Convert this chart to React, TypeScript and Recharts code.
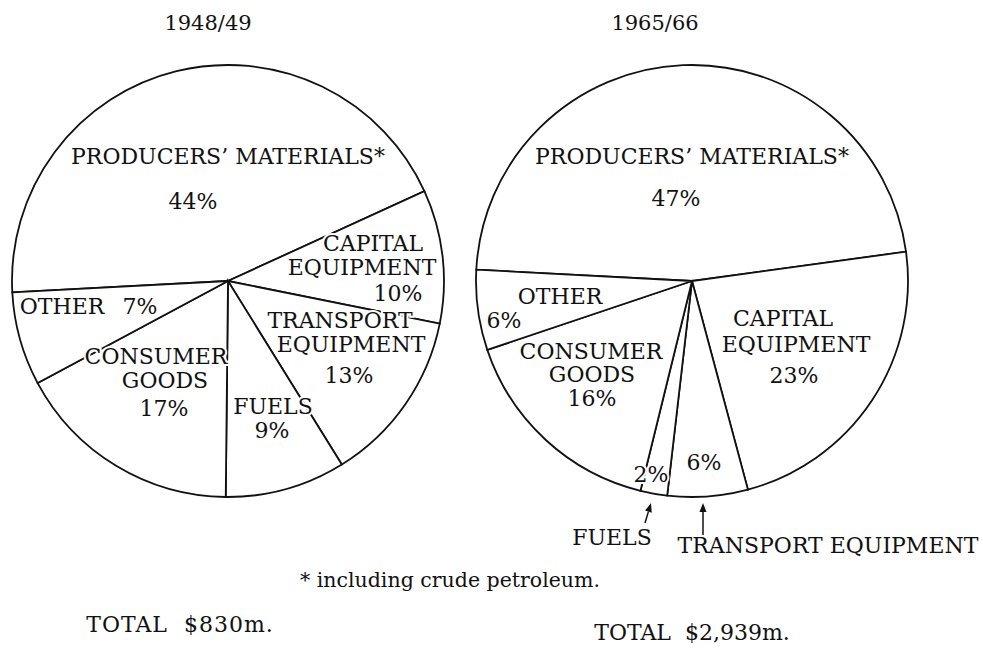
import { PieChart, Pie } from "recharts";

const W = 983;
const H = 651;
const FONT = "'DejaVu Serif', 'Liberation Serif', serif";
const FS = 22;

// shares of imports, per cent
const categories = [
  "Producers' materials",
  "Capital equipment",
  "Transport equipment",
  "Fuels",
  "Consumer goods",
  "Other",
];
const share4849 = [44, 10, 13, 9, 17, 7];
const share6566 = [47, 23, 6, 2, 16, 6];
const periods = ["1948/49", "1965/66"];
const totals = ["TOTAL  $830m.", "TOTAL  $2,939m."];
const footnote = "* including crude petroleum.";

type Line = { t: string; dx: number; dy: number };
type Arrow = { x1: number; y1: number; x2: number; y2: number };

// label placement, offsets from the pie centre ("%v" is replaced by the value)
const labels4849: Record<string, Line[]> = {
  "Producers' materials": [
    { t: "PRODUCERS\u2019 MATERIALS*", dx: 0, dy: -125 },
    { t: "%v", dx: -35, dy: -80 },
  ],
  "Capital equipment": [
    { t: "CAPITAL", dx: 145, dy: -38 },
    { t: "EQUIPMENT", dx: 134, dy: -14 },
    { t: "%v", dx: 170, dy: 12 },
  ],
  "Transport equipment": [
    { t: "TRANSPORT", dx: 112, dy: 39 },
    { t: "EQUIPMENT", dx: 123, dy: 63 },
    { t: "%v", dx: 121, dy: 94 },
  ],
  Fuels: [
    { t: "FUELS", dx: 45, dy: 125 },
    { t: "%v", dx: 44, dy: 149 },
  ],
  "Consumer goods": [
    { t: "CONSUMER", dx: -72, dy: 75 },
    { t: "GOODS", dx: -63, dy: 99 },
    { t: "%v", dx: -64, dy: 127 },
  ],
  Other: [
    { t: "OTHER", dx: -166, dy: 25 },
    { t: "%v", dx: -88, dy: 25 },
  ],
};

const labels6566: Record<string, Line[]> = {
  "Producers' materials": [
    { t: "PRODUCERS\u2019 MATERIALS*", dx: 0, dy: -125 },
    { t: "%v", dx: -16, dy: -83 },
  ],
  "Capital equipment": [
    { t: "CAPITAL", dx: 91, dy: 37 },
    { t: "EQUIPMENT", dx: 104, dy: 63 },
    { t: "%v", dx: 102, dy: 94 },
  ],
  "Transport equipment": [
    { t: "%v", dx: 12, dy: 181 },
    { t: "TRANSPORT EQUIPMENT", dx: 136, dy: 264 },
  ],
  Fuels: [
    { t: "%v", dx: -41, dy: 193 },
    { t: "FUELS", dx: -80, dy: 256 },
  ],
  "Consumer goods": [
    { t: "CONSUMER", dx: -101, dy: 70 },
    { t: "GOODS", dx: -100, dy: 93 },
    { t: "%v", dx: -100, dy: 117 },
  ],
  Other: [
    { t: "OTHER", dx: -132, dy: 15 },
    { t: "%v", dx: -188, dy: 39 },
  ],
};

const arrows6566: Record<string, Arrow> = {
  "Transport equipment": { x1: 11, y1: 254, x2: 11, y2: 222 },
  Fuels: { x1: -47, y1: 242, x2: -41, y2: 222 },
};

const toData = (vals: number[]) => categories.map((name, i) => ({ name, value: vals[i] }));
const data4849 = toData(share4849);
const data6566 = toData(share6566);

const textStyle = {
  fontFamily: FONT,
  fontSize: FS,
  fill: "#111",
  stroke: "#fff",
  strokeWidth: 4,
  paintOrder: "stroke" as const,
};

function ArrowMark({ cx, cy, a }: { cx: number; cy: number; a: Arrow }) {
  const x1 = cx + a.x1, y1 = cy + a.y1, x2 = cx + a.x2, y2 = cy + a.y2;
  const len = Math.hypot(x2 - x1, y2 - y1);
  const ux = (x2 - x1) / len, uy = (y2 - y1) / len;
  const bx = x2 - ux * 9, by = y2 - uy * 9;
  const pts = `${x2},${y2} ${bx - uy * 3.5},${by + ux * 3.5} ${bx + uy * 3.5},${by - ux * 3.5}`;
  return (
    <g>
      <line x1={x1} y1={y1} x2={bx} y2={by} stroke="#111" strokeWidth={1.5} />
      <polygon points={pts} fill="#111" />
    </g>
  );
}

const makeLabel =
  (layout: Record<string, Line[]>, arrows: Record<string, Arrow> = {}) =>
  (props: any) => {
    const { cx, cy } = props;
    const name = props.payload?.name ?? props.name;
    const value = props.payload?.value ?? props.value;
    const lines = layout[name] || [];
    const arrow = arrows[name];
    return (
      <g key={name}>
        {lines.map((l, i) => (
          <text
            key={i}
            x={cx + l.dx}
            y={cy + l.dy + FS * 0.36}
            textAnchor="middle"
            style={textStyle}
          >
            {l.t.replace("%v", `${value}%`)}
          </text>
        ))}
        {arrow && <ArrowMark cx={cx} cy={cy} a={arrow} />}
      </g>
    );
  };

export default function App() {
  return (
    <div style={{ position: "absolute", left: 0, top: 0, width: W, height: H, background: "#fff" }}>
      <PieChart width={W} height={H} margin={{ top: 0, right: 0, bottom: 0, left: 0 }}>
        <Pie
          data={data4849}
          dataKey="value"
          nameKey="name"
          cx={228}
          cy={281}
          outerRadius={216}
          startAngle={183}
          endAngle={-177}
          fill="#fff"
          stroke="#111"
          strokeWidth={1.8}
          labelLine={false}
          label={makeLabel(labels4849)}
          isAnimationActive={false}
        />
        <Pie
          data={data6566}
          dataKey="value"
          nameKey="name"
          cx={692}
          cy={281}
          outerRadius={216}
          startAngle={177}
          endAngle={-183}
          fill="#fff"
          stroke="#111"
          strokeWidth={1.8}
          labelLine={false}
          label={makeLabel(labels6566, arrows6566)}
          isAnimationActive={false}
        />
      </PieChart>
      <svg
        width={W}
        height={H}
        style={{ position: "absolute", left: 0, top: 0, pointerEvents: "none" }}
      >
        <g style={{ fontFamily: FONT, fill: "#111" }}>
          <text x={208} y={22 + 8} textAnchor="middle" fontSize={21}>
            {periods[0]}
          </text>
          <text x={655} y={22 + 8} textAnchor="middle" fontSize={21}>
            {periods[1]}
          </text>
          <text x={450} y={580 + 7} textAnchor="middle" fontSize={20.5} xmlSpace="preserve">
            {footnote}
          </text>
          <text x={180} y={624 + 8} textAnchor="middle" fontSize={22} letterSpacing={1} xmlSpace="preserve">
            {totals[0]}
          </text>
          <text x={692} y={632 + 8} textAnchor="middle" fontSize={22} xmlSpace="preserve">
            {totals[1]}
          </text>
        </g>
      </svg>
    </div>
  );
}
